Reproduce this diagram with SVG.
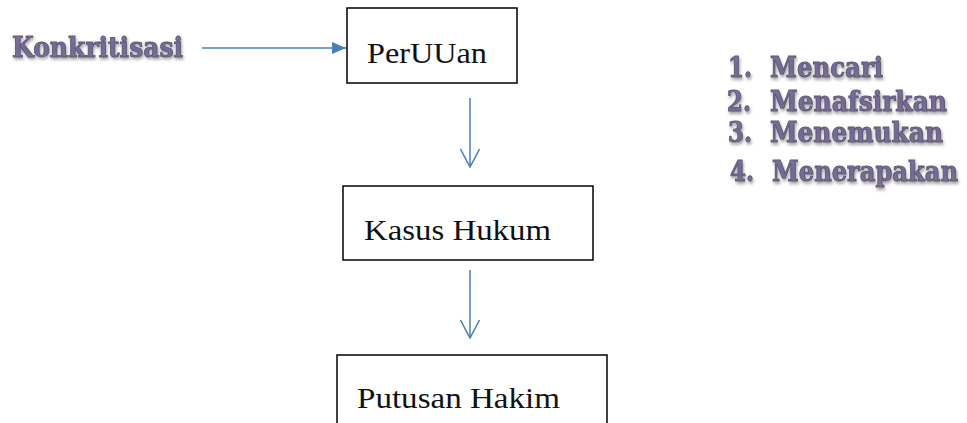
<svg xmlns="http://www.w3.org/2000/svg" width="967" height="423" viewBox="0 0 967 423">
  <style>
    .box { fill: #ffffff; stroke: #000000; stroke-width: 1.5; }
    .lbl { font-family: "Liberation Serif", "Times New Roman", serif; font-size: 29px; fill: #111111; }
    .wa { font-family: "DejaVu Serif", "Liberation Serif", serif; font-weight: bold; font-size: 28px; fill: url(#wa); stroke: #5e5878; stroke-width: 0.9; filter: url(#sh); }
    .st { font-size: 23px; stroke-width: 0.8; }
    .con { stroke: #4a7ebb; stroke-width: 1.5; fill: none; }
  </style>
  <defs>
    <linearGradient id="wa" x1="0" y1="0" x2="0" y2="1">
      <stop offset="0" stop-color="#8a6f9a"/>
      <stop offset="0.5" stop-color="#6f6a96"/>
      <stop offset="1" stop-color="#8a7088"/>
    </linearGradient>
    <filter id="sh" x="-10%" y="-30%" width="120%" height="160%">
      <feDropShadow dx="1" dy="2" stdDeviation="1.5" flood-color="#777777" flood-opacity="0.7"/>
    </filter>
    <marker id="tri" viewBox="0 0 14 12" refX="14" refY="6" markerWidth="14" markerHeight="12" markerUnits="userSpaceOnUse" orient="auto">
      <path d="M0,0 L14,6 L0,12 Z" fill="#4a7ebb"/>
    </marker>
    <marker id="vee" viewBox="0 0 20 20" refX="10" refY="19" markerWidth="20" markerHeight="20" markerUnits="userSpaceOnUse" orient="0">
      <path d="M0.5,1 L10,19 L19.5,1" fill="none" stroke="#4a7ebb" stroke-width="1.5"/>
    </marker>
  </defs>

  <g id="connectors">
    <line class="con" x1="202" y1="48" x2="346" y2="48" marker-end="url(#tri)"/>
    <line class="con" x1="470" y1="98" x2="470" y2="167" marker-end="url(#vee)"/>
    <line class="con" x1="470" y1="270" x2="470" y2="338" marker-end="url(#vee)"/>
  </g>

  <g id="konkritisasi">
    <text class="wa" x="12" y="57" textLength="171" lengthAdjust="spacingAndGlyphs">Konkritisasi</text>
  </g>

  <g id="peruuan">
    <rect class="box" x="347" y="8" width="170" height="75"/>
    <text class="lbl" x="367" y="63" textLength="120" lengthAdjust="spacingAndGlyphs">PerUUan</text>
  </g>

  <g id="kasus-hukum">
    <rect class="box" x="343" y="186" width="250" height="74"/>
    <text class="lbl" x="364" y="240" textLength="187" lengthAdjust="spacingAndGlyphs">Kasus Hukum</text>
  </g>

  <g id="putusan-hakim">
    <rect class="box" x="337" y="355" width="270" height="80"/>
    <text class="lbl" x="357" y="408" textLength="203" lengthAdjust="spacingAndGlyphs">Putusan Hakim</text>
  </g>

  <g id="steps">
    <text class="wa st" transform="translate(728,77) scale(1,1.2)">1.</text>
    <text class="wa st" transform="translate(770,77) scale(1,1.2)" textLength="113" lengthAdjust="spacingAndGlyphs">Mencari</text>
    <text class="wa st" transform="translate(727,111) scale(1,1.2)">2.</text>
    <text class="wa st" transform="translate(770,111) scale(1,1.2)" textLength="177" lengthAdjust="spacingAndGlyphs">Menafsirkan</text>
    <text class="wa st" transform="translate(728,142) scale(1,1.2)">3.</text>
    <text class="wa st" transform="translate(770,142) scale(1,1.2)" textLength="173" lengthAdjust="spacingAndGlyphs">Menemukan</text>
    <text class="wa st" transform="translate(730,181) scale(1,1.2)">4.</text>
    <text class="wa st" transform="translate(772,181) scale(1,1.2)" textLength="186" lengthAdjust="spacingAndGlyphs">Menerapakan</text>
  </g>
</svg>
